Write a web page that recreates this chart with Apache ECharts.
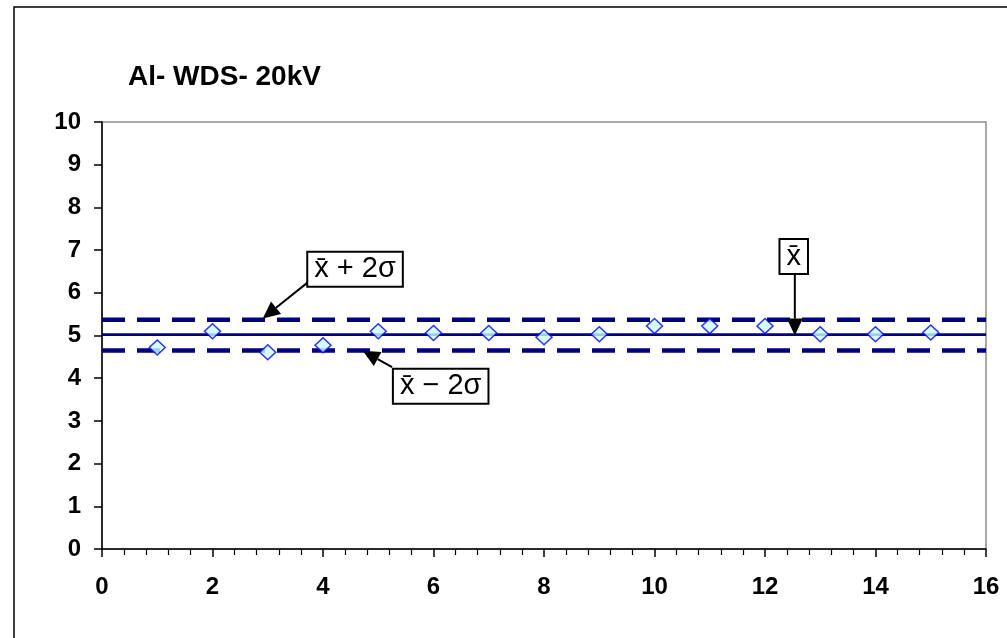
<!DOCTYPE html>
<html>
<head>
<meta charset="utf-8">
<script src="https://cdn.jsdelivr.net/npm/echarts@6/dist/echarts.min.js"></script>
<style>
  html, body { margin: 0; padding: 0; background: #fff; }
  #chart { width: 1007px; height: 638px; }
</style>
</head>
<body>
<div id="chart"></div>
<script>
// measurement number (x) and measured value (y)
var runs = [1, 2, 3, 4, 5, 6, 7, 8, 9, 10, 11, 12, 13, 14, 15];
var values = [4.72, 5.10, 4.61, 4.77, 5.10, 5.06, 5.06, 4.96, 5.03, 5.22, 5.22, 5.22, 5.03, 5.03, 5.07];

// mean and +/- 2 sigma limits
var meanValue = 5.02;
var upperLimit = 5.37;
var lowerLimit = 4.65;
var lineSpan = [0, 16];

// callouts: label, box centre, arrow start, arrow tip (data coords)
var callouts = [
  { text: 'x\u0304 + 2\u03c3', box: [4.58, 6.55], from: [3.73, 6.25], to: [2.91, 5.40] },
  { text: 'x\u0304 \u2212 2\u03c3', box: [6.13, 3.81], from: [5.25, 4.26], to: [4.72, 4.64] },
  { text: 'x\u0304', box: [12.52, 6.85], from: [12.54, 6.42], to: [12.54, 5.00] }
];

var points = runs.map(function (r, i) { return [r, values[i]]; });
function flat(v) { return lineSpan.map(function (x) { return [x, v]; }); }

var axisFont = { fontFamily: 'Liberation Sans, Arial', fontWeight: 'bold', fontSize: 24, color: '#000' };

var myChart = echarts.init(document.getElementById('chart'));
var option = {
    animation: false,
    backgroundColor: '#fff',
    title: {
        text: 'Al- WDS- 20kV',
        left: 128,
        top: 63,
        padding: 0,
        textStyle: { fontFamily: 'Liberation Sans, Arial', fontWeight: 'bold', fontSize: 28, color: '#000' }
    },
    grid: {
        left: 102, right: 21, top: 122, bottom: 89,
        show: true, borderColor: '#8c8c8c', borderWidth: 1.5
    },
    xAxis: {
        type: 'value', min: 0, max: 16, interval: 2,
        axisLine: { lineStyle: { color: '#000', width: 1.5 } },
        axisTick: { length: 8, lineStyle: { color: '#000', width: 1.5 } },
        minorTick: { show: true, splitNumber: 5, length: 6, lineStyle: { color: '#000', width: 1.2 } },
        splitLine: { show: false },
        axisLabel: Object.assign({ margin: 26 }, axisFont)
    },
    yAxis: {
        type: 'value', min: 0, max: 10, interval: 1,
        axisLine: { show: true, lineStyle: { color: '#000', width: 1.5 } },
        axisTick: { show: true, length: 8, lineStyle: { color: '#000', width: 1.5 } },
        splitLine: { show: false },
        axisLabel: Object.assign({ margin: 21 }, axisFont)
    },
    series: [
        {
            name: 'upper', type: 'line', data: flat(upperLimit), symbol: 'none',
            lineStyle: { color: '#000080', width: 4.5, type: [23, 12] }, z: 2
        },
        {
            name: 'lower', type: 'line', data: flat(lowerLimit), symbol: 'none',
            lineStyle: { color: '#000080', width: 4.5, type: [23, 12] }, z: 2
        },
        {
            name: 'mean', type: 'line', data: flat(meanValue), symbol: 'none',
            lineStyle: { color: '#000080', width: 2.7 }, z: 2
        },
        {
            name: 'values', type: 'scatter', data: points,
            symbol: 'diamond', symbolSize: [16, 15],
            itemStyle: { color: '#ccffff', borderColor: '#0000ff', borderWidth: 1.5 }, z: 5
        }
    ]
};
myChart.setOption(option);

// callout boxes and arrows, placed from data coordinates
var graphics = [
    { type: 'rect', shape: { x: 14, y: 7, width: 1200, height: 1000 },
      style: { fill: 'none', stroke: '#000', lineWidth: 1.5 }, silent: true }
];
callouts.forEach(function (c) {
    var b = myChart.convertToPixel({ gridIndex: 0 }, c.box);
    var p0 = myChart.convertToPixel({ gridIndex: 0 }, c.from);
    var p1 = myChart.convertToPixel({ gridIndex: 0 }, c.to);
    var ang = Math.atan2(p1[1] - p0[1], p1[0] - p0[0]);
    var hl = 17, hw = 8;
    var base = [p1[0] - hl * Math.cos(ang), p1[1] - hl * Math.sin(ang)];
    graphics.push({
        type: 'line', z: 20,
        shape: { x1: p0[0], y1: p0[1], x2: base[0], y2: base[1] },
        style: { stroke: '#000', lineWidth: 2 }
    });
    graphics.push({
        type: 'polygon', z: 20,
        shape: { points: [
            [p1[0], p1[1]],
            [base[0] + hw * Math.sin(ang), base[1] - hw * Math.cos(ang)],
            [base[0] - hw * Math.sin(ang), base[1] + hw * Math.cos(ang)]
        ] },
        style: { fill: '#000' }
    });
    graphics.push({
        type: 'text', z: 21, x: b[0], y: b[1],
        style: {
            text: c.text, font: '29px "Liberation Sans", Arial', fill: '#000',
            align: 'center', verticalAlign: 'middle',
            backgroundColor: '#fff', borderColor: '#000', borderWidth: 2,
            padding: [2, 6, 2, 6]
        }
    });
});
myChart.setOption({ graphic: graphics });
</script>
</body>
</html>
